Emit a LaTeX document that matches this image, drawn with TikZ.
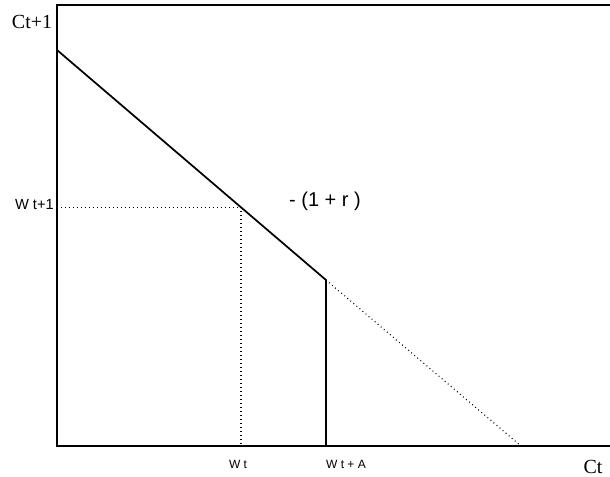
\documentclass[tikz,border=0pt]{standalone}
\usepackage{fontspec}
\setmainfont{Liberation Serif}
\setsansfont{Liberation Sans}
\usetikzlibrary{calc}

\begin{document}
\begin{tikzpicture}[x=0.75pt,y=-0.75pt,
     axis/.style={draw,line width=1pt},
     budget/.style={draw,line width=1.3pt},
     guide/.style={draw,line width=0.8pt,dash pattern=on 0.7pt off 2.3pt},
     serlab/.style={font=\fontsize{15}{15}\selectfont,inner sep=0pt},
     lab/.style={font=\sffamily\fontsize{11}{11}\selectfont,inner sep=0pt},
     small/.style={font=\sffamily\fontsize{9}{9}\selectfont,inner sep=0pt}]
    \useasboundingbox (0,0) rectangle (610,476);
    % frame and axes
    \coordinate (top) at (57,5);
    \coordinate (topr) at (610,5);
    \coordinate (o) at (57,446);
    \coordinate (xend) at (610,446);
    % budget line
    \coordinate (a) at (57,50);
    \coordinate (k) at (326,280);
    \coordinate (kb) at (326,446);
    \coordinate (e) at (521,446);
    \coordinate (p) at ($(a)!0.684!(k)$);
    \coordinate (py) at (o |- p);
    \coordinate (px) at (p |- o);
    \draw[axis] (topr) -- (top) -- (o) -- (xend);
    \draw[guide] (py) -- (p) -- (px);
    \draw[guide] (k) -- (e);
    \draw[budget] (a) -- (k) -- (kb);
    % labels
    \node[serlab] (cy) at (32,22) {Ct+1};
    \node[serlab] (cx) at (593,467) {Ct};
    \node[lab,anchor=east] (wy) at (54,205) {W t+1};
    \node[lab,font=\sffamily\fontsize{15}{15}\selectfont] (slope) at (325,201) {- (1 + r )};
    \node[small] (wt) at (238,464) {W t};
    \node[small] (wta) at (346,464) {W t + A};
  \end{tikzpicture}
\end{document}
